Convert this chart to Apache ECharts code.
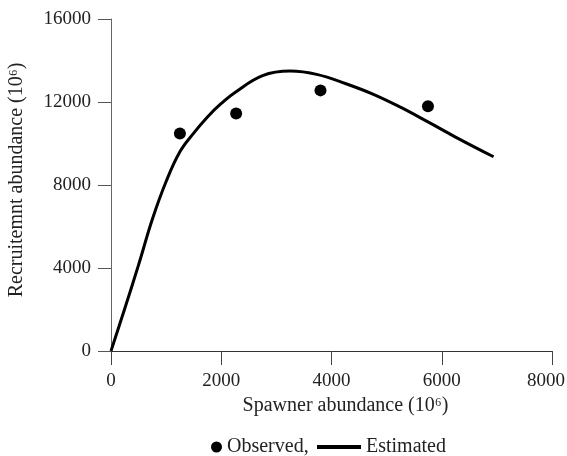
<!DOCTYPE html>
<html>
<head>
<meta charset="utf-8">
<script src="https://cdn.jsdelivr.net/npm/echarts@6/dist/echarts.min.js"></script>
<style>
  html, body { margin: 0; padding: 0; background: #fff; }
  #main { width: 567px; height: 456px; }
</style>
</head>
<body>
<div id="main"></div>
<script>
// observed points (spawners, recruits)
const observedX = [1250, 2270, 3800, 5750];
const observedY = [10480, 11450, 12560, 11800];

// fitted curve
const estX = [0, 250, 500, 750, 1000, 1250, 1500, 1750, 2000, 2250, 2750, 3250, 3750, 4250, 4750, 5250, 5750, 6250, 6940];
const estY = [0, 2050, 4150, 6350, 8170, 9600, 10500, 11280, 11930, 12460, 13270, 13490, 13320, 12890, 12380, 11750, 11040, 10310, 9360];

const xTicks = [0, 2000, 4000, 6000, 8000];
const yTicks = [0, 4000, 8000, 12000, 16000];

const font = 'Liberation Serif';
const chart = echarts.init(document.getElementById('main'));

chart.setOption({
  animation: false,
  textStyle: { fontFamily: font },
  grid: { left: 111, right: 15, top: 19, bottom: 105, outerBoundsMode: 'none' },
  legend: [
    {
      data: [{ name: 'Observed', icon: 'circle' }],
      left: 206, top: 432,
      itemWidth: 11, itemHeight: 11,
      formatter: '{name},',
      textStyle: { fontFamily: font, fontSize: 20, color: '#222' }
    },
    {
      data: [{ name: 'Estimated', icon: 'rect' }],
      left: 312, top: 432,
      itemWidth: 44, itemHeight: 4,
      textStyle: { fontFamily: font, fontSize: 20, color: '#222' }
    }
  ],
  xAxis: {
    type: 'value',
    min: xTicks[0], max: xTicks[xTicks.length - 1], interval: 2000,
    name: 'Spawner abundance (10⁶)',
    nameLocation: 'middle', nameGap: 45,
    nameTextStyle: { fontFamily: font, fontSize: 20, color: '#222', padding: [0, 0, 0, 28] },
    axisLine: { lineStyle: { color: '#333', width: 1 } },
    axisTick: { length: 14, lineStyle: { color: '#444' } },
    axisLabel: {
      margin: 21, fontFamily: font, fontSize: 19, color: '#222',
      formatter: v => v === xTicks[xTicks.length - 1] ? '{m|' + v + '}' : String(v),
      rich: { m: { fontFamily: font, fontSize: 19, color: '#222', padding: [0, 12, 0, 0] } }
    },
    splitLine: { show: false }
  },
  yAxis: {
    type: 'value',
    min: yTicks[0], max: yTicks[yTicks.length - 1], interval: 4000,
    name: 'Recruitemnt abundance (10⁶)',
    nameLocation: 'middle', nameGap: 84,
    nameTextStyle: { fontFamily: font, fontSize: 20, color: '#222', padding: [0, 0, 0, 10] },
    axisLine: { show: true, lineStyle: { color: '#666', width: 1 } },
    axisTick: { show: true, length: 13, lineStyle: { color: '#555' } },
    axisLabel: { margin: 20, fontFamily: font, fontSize: 19, color: '#222', formatter: v => String(v) },
    splitLine: { show: false }
  },
  series: [
    {
      name: 'Observed',
      type: 'scatter',
      symbol: 'circle',
      symbolSize: 12,
      itemStyle: { color: '#000', opacity: 1 },
      data: observedX.map((x, i) => [x, observedY[i]]),
      z: 3
    },
    {
      name: 'Estimated',
      type: 'line',
      smooth: 0.4,
      symbol: 'none',
      lineStyle: { color: '#000', width: 3 },
      itemStyle: { color: '#000' },
      data: estX.map((x, i) => [x, estY[i]]),
      z: 2
    }
  ]
});
</script>
</body>
</html>
